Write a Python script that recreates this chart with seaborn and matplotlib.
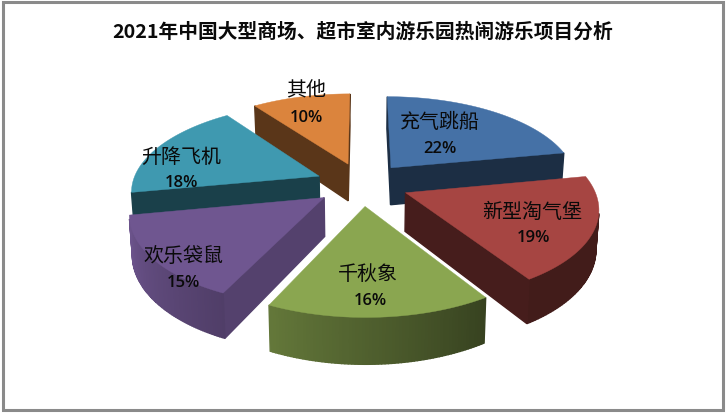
import numpy as np
import matplotlib
matplotlib.use("Agg")
import matplotlib.pyplot as plt
from matplotlib.patches import Rectangle
from matplotlib.colors import to_rgb
import seaborn as sns

# data
categories = ["充气跳船", "新型淘气堡", "千秋象", "欢乐袋鼠", "升降飞机", "其他"]
shares = [22, 19, 16, 15, 18, 10]
title = "2021年中国大型商场、超市室内游乐园热闹游乐项目分析"

# styles
top_colors = ["#4571A6", "#A64542", "#8AA650", "#6F5690", "#3F99B0", "#DB843D"]
cut_shade = [0.41, 0.42, 0.40, 0.76, 0.42, 0.41]
name_pos = [(440, 122), (532, 212), (368, 274), (183, 257), (181, 157), (306, 91)]
pct_pos = [(440, 149), (533, 238), (370, 301), (183, 283), (181, 183), (306, 118)]

sns.set_theme(style="white")
CJK = ["Noto Sans CJK SC", "DejaVu Sans"]
plt.rcParams["font.family"] = CJK

# projection of the tilted pie onto the picture
CX, CY, RX, RY, PERSP, DEPTH, EXPLODE = 362, 185, 187, 86.5, 0.152, 38, 0.25


def project(x, y, low=False):
    s = 1 / (1 + PERSP * y)
    px = RX * x * s * (0.987 if low else 1)
    py = RY * y * s
    return CX + px, CY - py + (DEPTH * s if low else 0)


def rim_shade(theta):
    return np.interp(theta, [90, 148, 205, 259, 300], [0.40, 0.40, 0.72, 0.98, 0.98])


fig = plt.figure(figsize=(7.26, 4.14), dpi=100)
ax = fig.add_axes([0, 0, 1, 1])
ax.set_xlim(0, 726)
ax.set_ylim(414, 0)
ax.axis("off")

ax.add_patch(Rectangle((3, 3), 720, 408, fill=False, edgecolor="#8A8A8A", linewidth=2.2))

angles = 360 * np.array(shares) / np.sum(shares)
ends = np.cumsum(angles)
starts = ends - angles
mids = (starts + ends) / 2

# back-to-front painting order
order = np.argsort(-np.cos(np.radians(mids)))

for i in order:
    base = np.array(to_rgb(top_colors[i]))
    ax0, ay0 = EXPLODE * np.sin(np.radians(mids[i])), EXPLODE * np.cos(np.radians(mids[i]))
    th = np.linspace(starts[i], ends[i], 70)
    xs = ax0 + np.sin(np.radians(th))
    ys = ay0 + np.cos(np.radians(th))
    gx = np.r_[ax0, xs]
    gy = np.r_[ay0, ys]
    tx, ty = project(gx, gy)
    bx, by = project(gx, gy, low=True)
    n = len(gx)
    for k in range(n):
        m = (k + 1) % n
        qx = [tx[k], tx[m], bx[m], bx[k]]
        qy = [ty[k], ty[m], by[m], by[k]]
        area = 0.5 * sum(qx[j] * qy[(j + 1) % 4] - qx[(j + 1) % 4] * qy[j] for j in range(4))
        if area >= 0:
            continue
        if k == 0 or m == 0:
            f = cut_shade[i]
        else:
            f = rim_shade((th[k - 1] + th[m - 1]) / 2)
        ax.fill(qx, qy, color=tuple(base * f), linewidth=1.0, zorder=2)
    ax.fill(tx, ty, color=top_colors[i], linewidth=0.3, zorder=2)

for i, cat in enumerate(categories):
    ax.text(*name_pos[i], cat, ha="center", va="center", fontsize=14.4, color="#0A0A0A",
            fontweight="medium", family=CJK, zorder=5)
    ax.text(*pct_pos[i], f"{shares[i]}%", ha="center", va="center", fontsize=12, color="#0A0A0A",
            fontweight="semibold", family=["Open Sans", "DejaVu Sans"], zorder=5)

ax.text(363, 32, title, ha="center", va="center", fontsize=14.2, fontweight="bold",
        color="#0A0A0A", family=CJK, zorder=5)

fig.savefig("out.png", dpi=100, facecolor="white")
